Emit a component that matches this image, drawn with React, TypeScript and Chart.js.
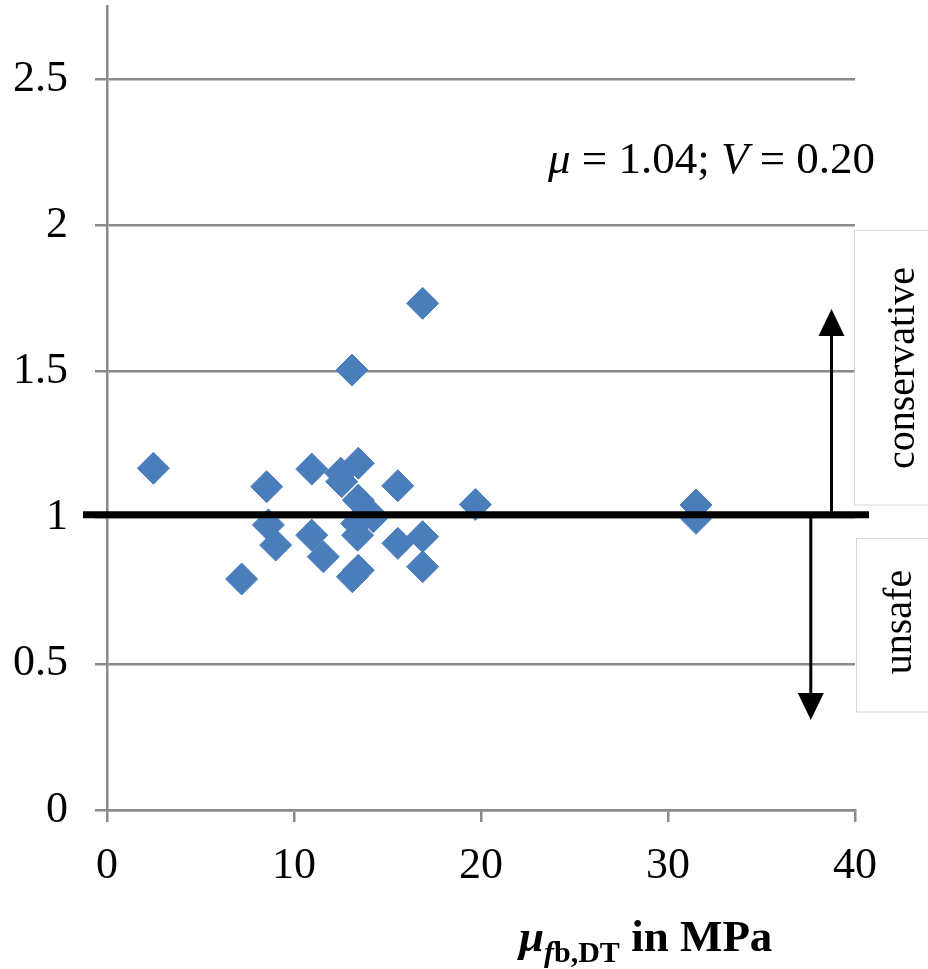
import React, { useEffect, useRef } from "react";
import { Chart, registerables } from "chart.js";

Chart.register(...registerables);

// ---- data ----
const xValues = [2.48, 8.54, 10.95, 12.5, 12.55, 13.44, 13.44, 14.24, 15.55, 8.63, 9.02, 10.95, 11.57, 13.35, 13.4, 15.55, 16.88, 16.88, 7.2, 13.12, 13.44, 13.1, 16.88, 19.7, 31.5, 31.5];
const yValues = [1.169, 1.106, 1.166, 1.152, 1.123, 1.186, 1.06, 1.003, 1.109, 0.975, 0.906, 0.94, 0.866, 0.98, 0.94, 0.912, 0.935, 0.832, 0.79, 0.798, 0.82, 1.505, 1.733, 1.045, 1.043, 0.998];
const xTicks = [0, 10, 20, 30, 40];
const yTicks = [0, 0.5, 1, 1.5, 2, 2.5];
const referenceValue = 1;
const statsParts = [
  { text: "μ", italic: true },
  { text: " = 1.04; ", italic: false },
  { text: "V", italic: true },
  { text: " = 0.20", italic: false },
];
const upLabel = "conservative";
const downLabel = "unsafe";

const FONT = "'Liberation Serif', 'Times New Roman', serif";
const GRID = "#8a8a8a";
const BLUE = "#4A7EBB";
const OFF = 11; // canvas is shifted up by this much

const decorPlugin = {
  id: "decor",
  afterDatasetsDraw(chart: any) {
    const { ctx, scales } = chart;
    const y = scales.y;
    const yRef = y.getPixelForValue(referenceValue) - 3;
    ctx.save();

    // label boxes
    ctx.fillStyle = "#ffffff";
    ctx.strokeStyle = "#d6d6d6";
    ctx.lineWidth = 1;
    ctx.fillRect(854.5, 230.5 + OFF, 90, 274.5);
    ctx.strokeRect(854.5, 230.5 + OFF, 90, 274.5);
    ctx.fillRect(856.5, 538.5 + OFF, 90, 173.5);
    ctx.strokeRect(856.5, 538.5 + OFF, 90, 173.5);

    // reference line
    ctx.strokeStyle = "#000";
    ctx.lineWidth = 7;
    ctx.beginPath();
    ctx.moveTo(83, yRef);
    ctx.lineTo(869, yRef);
    ctx.stroke();

    // arrows
    const arrow = (x: number, y0: number, tip: number) => {
      const dir = tip < y0 ? -1 : 1;
      const base = tip - dir * 27;
      ctx.strokeStyle = "#000";
      ctx.lineWidth = 3;
      ctx.beginPath();
      ctx.moveTo(x, y0);
      ctx.lineTo(x, base);
      ctx.stroke();
      ctx.fillStyle = "#000";
      ctx.beginPath();
      ctx.moveTo(x, tip);
      ctx.lineTo(x - 13, base);
      ctx.lineTo(x + 13, base);
      ctx.closePath();
      ctx.fill();
    };
    arrow(831.5, yRef, 309 + OFF);
    arrow(810.8, yRef, 720 + OFF);

    // rotated labels
    ctx.fillStyle = "#000";
    ctx.font = `40px ${FONT}`;
    ctx.textAlign = "center";
    ctx.textBaseline = "middle";
    ctx.save();
    ctx.translate(903, 368 + OFF);
    ctx.rotate(-Math.PI / 2);
    ctx.fillText(upLabel, 0, 0);
    ctx.restore();
    ctx.save();
    ctx.translate(900, 622 + OFF);
    ctx.rotate(-Math.PI / 2);
    ctx.fillText(downLabel, 0, 0);
    ctx.restore();

    // stats text
    ctx.textAlign = "left";
    ctx.textBaseline = "alphabetic";
    let cx = 548;
    for (const p of statsParts) {
      ctx.font = `${p.italic ? "italic " : ""}45px ${FONT}`;
      ctx.fillText(p.text, cx, 173 + OFF);
      cx += ctx.measureText(p.text).width;
    }

    // axis title
    let tx = 519;
    const base = 951 + OFF;
    const part = (t: string, font: string, dy: number) => {
      ctx.font = font;
      ctx.fillText(t, tx, base + dy);
      tx += ctx.measureText(t).width;
    };
    part("μ", `italic bold 45px ${FONT}`, 0);
    part("f", `italic bold 30px ${FONT}`, 11);
    part("b,DT", `bold 30px ${FONT}`, 11);
    part(" in MPa", `bold 45px ${FONT}`, 0);

    ctx.restore();
  },
};

const fmt = (v: number) => String(Math.round(v * 100) / 100);

export default function App() {
  const canvasRef = useRef<HTMLCanvasElement | null>(null);

  useEffect(() => {
    if (!canvasRef.current) return;
    const chart = new Chart(canvasRef.current, {
      type: "scatter",
      data: {
        datasets: [
          {
            data: xValues.map((x, i) => ({ x, y: yValues[i] })),
            pointStyle: "rectRot",
            pointRadius: 16,
            backgroundColor: BLUE,
            borderColor: BLUE,
            borderWidth: 1,
          },
        ],
      },
      options: {
        animation: false,
        responsive: false,
        devicePixelRatio: 1,
        layout: { padding: { top: 6, right: 73, left: 0, bottom: 0 } },
        plugins: { legend: { display: false }, tooltip: { enabled: false } },
        scales: {
          x: {
            type: "linear",
            min: 0,
            max: 40,
            position: "bottom",
            afterBuildTicks: (s: any) => {
              s.ticks = xTicks.map((v) => ({ value: v }));
            },
            afterFit: (s: any) => {
              s.height = 159;
              s.paddingLeft = 0;
              s.paddingRight = 0;
            },
            grid: { drawOnChartArea: false, drawTicks: true, tickLength: 12, color: GRID, lineWidth: 2.5 },
            border: { display: true, color: GRID, width: 2.5 },
            ticks: {
              font: { family: FONT, size: 44 },
              color: "#000",
              padding: 18,
              maxRotation: 0,
              autoSkip: false,
              callback: (v: any) => fmt(Number(v)),
            },
          },
          y: {
            type: "linear",
            min: 0,
            max: 2.75,
            afterBuildTicks: (s: any) => {
              s.ticks = yTicks.map((v) => ({ value: v }));
            },
            afterFit: (s: any) => {
              s.width = 107;
              s.paddingTop = 0;
              s.paddingBottom = 0;
            },
            grid: { color: GRID, lineWidth: 2.5, tickLength: 12, drawTicks: true },
            border: { display: true, color: GRID, width: 2.5 },
            ticks: {
              font: { family: FONT, size: 44 },
              color: "#000",
              padding: 27,
              autoSkip: false,
              callback: (v: any) => fmt(Number(v)),
            },
          },
        },
      },
      plugins: [decorPlugin],
    });
    return () => chart.destroy();
  }, []);

  return (
    <div style={{ position: "absolute", left: 0, top: -OFF, width: 928, height: 969 + OFF, background: "#fff" }}>
      <canvas ref={canvasRef} width={928} height={969 + OFF} style={{ display: "block" }} />
    </div>
  );
}
